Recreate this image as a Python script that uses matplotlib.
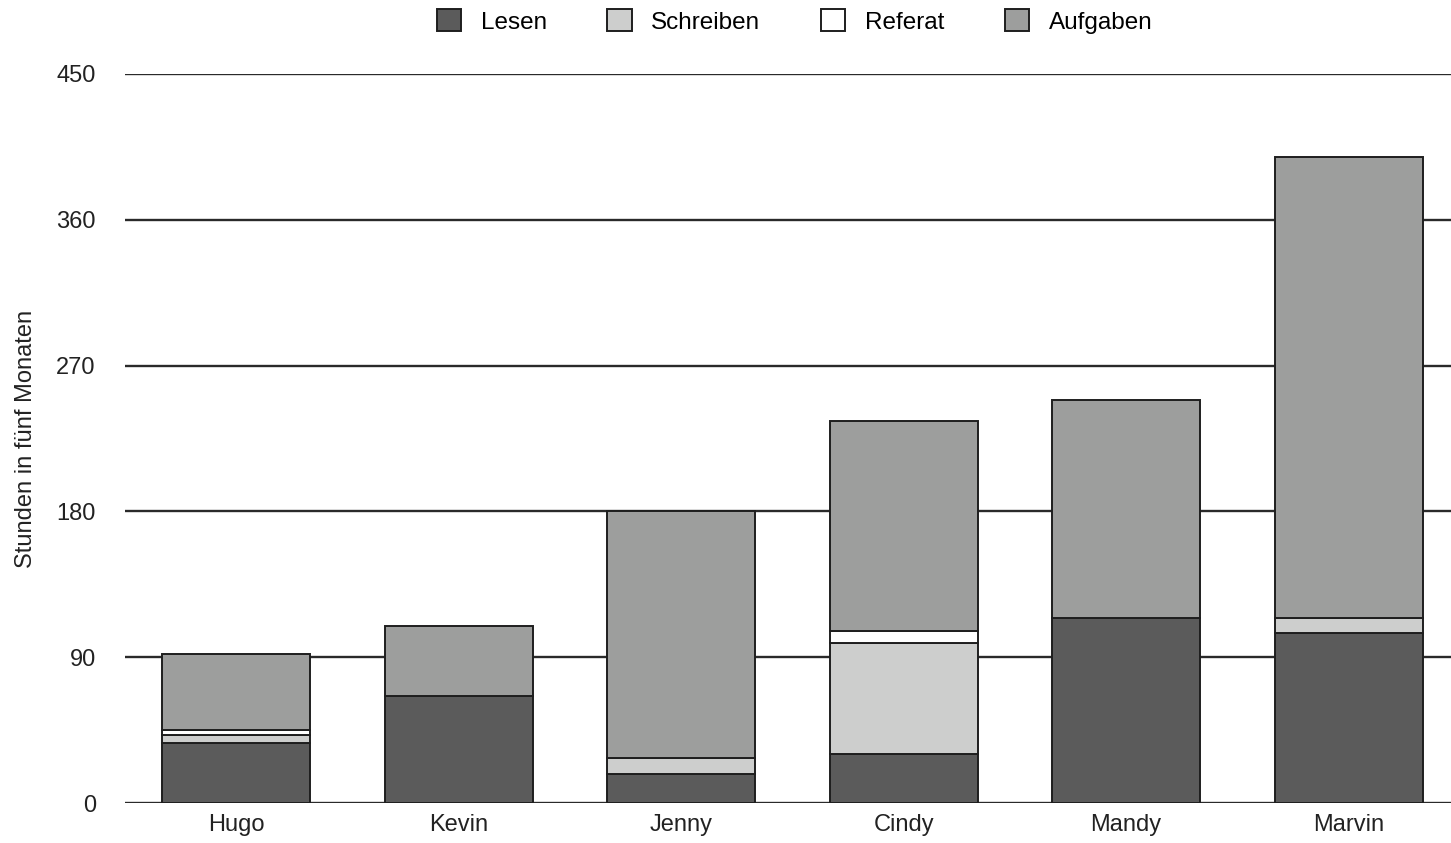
import numpy as np
import matplotlib.pyplot as plt

plt.rcParams['font.family'] = ['Liberation Sans', 'DejaVu Sans']

names = ['Hugo', 'Kevin', 'Jenny', 'Cindy', 'Mandy', 'Marvin']
lesen = [37, 66, 18, 30, 114, 105]
schreiben = [5, 0, 10, 69, 0, 9]
referat = [3, 0, 0, 7, 0, 0]
aufgaben = [47, 43, 152, 130, 135, 285]

series = [('Lesen', lesen, '#5b5b5b'),
          ('Schreiben', schreiben, '#cdcecd'),
          ('Referat', referat, '#ffffff'),
          ('Aufgaben', aufgaben, '#9d9e9d')]

fig = plt.figure(figsize=(14.51, 8.43), dpi=100)
ax = fig.add_axes([125/1451, 40/843, 1 - 125/1451, 729/843])

x = np.arange(len(names))
bottom = np.zeros(len(names))
for label, vals, col in series:
    vals = np.array(vals, dtype=float)
    ax.bar(x, vals, 0.665, bottom=bottom, color=col, edgecolor='#1e1e1e',
           linewidth=1.4, label=label, zorder=3)
    bottom += vals

ax.set_ylim(0, 450)
ax.set_yticks(np.arange(0, 451, 90))
ax.set_xlim(-0.5, 5.46)
ax.set_xticks(x)
ax.set_xticklabels(names)
ax.yaxis.grid(True, color='#2a2a2a', linewidth=1.7, zorder=0)
ax.set_axisbelow(True)
for s in ax.spines.values():
    s.set_visible(False)
ax.tick_params(length=0, labelsize=17, colors='#222222')
ax.tick_params(axis='y', pad=21)
ax.tick_params(axis='x', pad=8)
ax.set_ylabel('Stunden in fünf Monaten', fontsize=17, color='#222222', labelpad=14)

ax.legend(loc='center', bbox_to_anchor=(0.505, 1.072), ncol=4, frameon=False,
          fontsize=17.5, handlelength=1.0, handleheight=1.0, columnspacing=2.5,
          handletextpad=0.8)

plt.savefig('out.png')
